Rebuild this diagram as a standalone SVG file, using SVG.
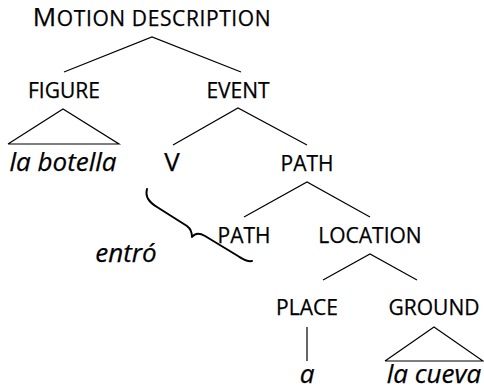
<svg xmlns="http://www.w3.org/2000/svg" width="484" height="388" viewBox="0 0 484 388">
  <style>
    text { font-family: "Open Sans", "Noto Sans", sans-serif; fill: #000; stroke: #000; stroke-width: 0.25; text-anchor: middle; }
    .sc { font-size: 21px; }
    .big { font-size: 26px; }
    .it { font-size: 26px; font-style: italic; }
    .edge { stroke: #000; stroke-width: 1.2; fill: none; }
    .brace { stroke: #000; stroke-width: 2; fill: none; stroke-linecap: round; stroke-linejoin: round; }
  </style>

  <!-- tree branches -->
  <g id="connectors">
    <polyline class="edge" points="64,72 152,37 241,72"/>
    <polyline class="edge" points="8,144 63,109 119,144 8,144"/>
    <polyline class="edge" points="173,145 238,108 307,145"/>
    <polyline class="edge" points="244,217 307,182 370,217"/>
    <polyline class="edge" points="323,280 370,254 417,280"/>
    <line class="edge" x1="307" y1="327" x2="307" y2="361"/>
    <polyline class="edge" points="385,361 434,327 483,361 385,361"/>
    <path class="brace" d="M147,189 C145,197 149,202 157,207 L187,226 C191,229 192,232 192,237 C195,233 200,233 205,236 L238,256 C243,259 246,262 252,261"/>
  </g>

  <g id="motion-description">
    <text class="big" x="152" y="26" font-size="27" letter-spacing="0.6">M<tspan font-size="21">OTION DESCRIPTION</tspan></text>
  </g>
  <g id="figure">
    <text class="sc" x="64" y="98">FIGURE</text>
  </g>
  <g id="la-botella">
    <text class="it" x="63" y="171">la botella</text>
  </g>
  <g id="event">
    <text class="sc" x="238" y="98">EVENT</text>
  </g>
  <g id="v">
    <text class="big" x="172" y="171">V</text>
  </g>
  <g id="path-upper">
    <text class="sc" x="307" y="171">PATH</text>
  </g>
  <g id="path-lower">
    <text class="sc" x="244" y="243">PATH</text>
  </g>
  <g id="entro">
    <text class="it" x="126" y="262">entró</text>
  </g>
  <g id="location">
    <text class="sc" x="370" y="243">LOCATION</text>
  </g>
  <g id="place">
    <text class="sc" x="307" y="315">PLACE</text>
  </g>
  <g id="a">
    <text class="it" x="307" y="383">a</text>
  </g>
  <g id="ground">
    <text class="sc" x="434" y="315">GROUND</text>
  </g>
  <g id="la-cueva">
    <text class="it" x="434" y="383">la cueva</text>
  </g>
</svg>
